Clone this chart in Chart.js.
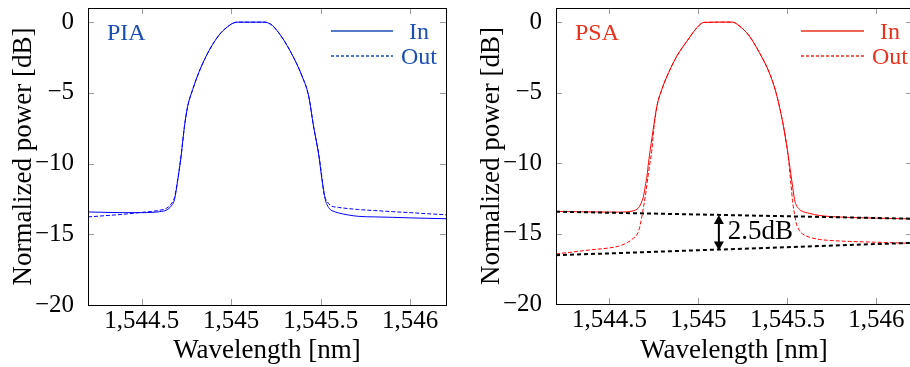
<!DOCTYPE html>
<html>
<head>
<meta charset="utf-8">
<script src="https://cdn.jsdelivr.net/npm/chart.js@4.4.0/dist/chart.umd.min.js"></script>
<style>
  html, body { margin: 0; padding: 0; background: #fff; overflow: hidden; }
  body { width: 910px; height: 367px; position: relative; }
  canvas { position: absolute; top: 0; }
  #chartPIA { left: 0; }
  #chartPSA { left: 460px; }
</style>
</head>
<body>
<canvas id="chartPIA" width="455" height="367"></canvas>
<canvas id="chartPSA" width="460" height="367"></canvas>
<script>
const xTicks = [1544.5, 1545, 1545.5, 1546];
const yTicks = [0, -5, -10, -15, -20];

// PIA panel (wavelength grid shared by In and Out)
const wlPIA = [1544.2, 1544.3, 1544.4, 1544.5, 1544.6, 1544.64, 1544.665, 1544.683, 1544.702, 1544.72,
  1544.739, 1544.757, 1544.785, 1544.822, 1544.86, 1544.896, 1544.943, 1544.99, 1545.01, 1545.035,
  1545.19, 1545.21, 1545.23, 1545.285, 1545.34, 1545.396, 1545.433, 1545.46, 1545.49, 1545.507,
  1545.517, 1545.526, 1545.535, 1545.554, 1545.563, 1545.6, 1545.71, 1545.8, 1545.9, 1546.0,
  1546.1, 1546.2];
const piaIn = [-13.42, -13.45, -13.47, -13.47, -13.4, -13.28, -13.0, -12.56, -11.13, -9.48,
  -7.36, -5.94, -4.76, -3.47, -2.41, -1.58, -0.75, -0.23, -0.07, 0,
  0, -0.08, -0.23, -1.1, -2.29, -3.82, -5.24, -7.36, -9.48, -11.13,
  -11.9, -12.56, -12.9, -13.26, -13.33, -13.49, -13.73, -13.77, -13.8, -13.84,
  -13.87, -13.9];
const piaOut = [-13.77, -13.68, -13.58, -13.45, -13.3, -13.15, -12.85, -12.4, -11.05, -9.45,
  -7.36, -5.94, -4.76, -3.47, -2.41, -1.58, -0.75, -0.23, -0.07, 0,
  0, -0.08, -0.23, -1.1, -2.29, -3.82, -5.24, -7.36, -9.4, -11.0,
  -12.1, -12.45, -12.67, -12.95, -13.02, -13.1, -13.25, -13.32, -13.4, -13.47,
  -13.55, -13.62];

// PSA panel
const wlPSA = [1544.2, 1544.3, 1544.4, 1544.5, 1544.551, 1544.6, 1544.626, 1544.664, 1544.683, 1544.692,
  1544.702, 1544.711, 1544.72, 1544.73, 1544.739, 1544.749, 1544.767, 1544.795, 1544.833, 1544.88,
  1544.937, 1544.993, 1545.031, 1545.191, 1545.229, 1545.285, 1545.342, 1545.398, 1545.436, 1545.474,
  1545.502, 1545.521, 1545.53, 1545.54, 1545.549, 1545.568, 1545.577, 1545.624, 1545.68, 1545.75,
  1545.85, 1546.0, 1546.2];
const psaIn = [-13.43, -13.45, -13.47, -13.48, -13.48, -13.46, -13.41, -13.17, -12.7, -12.34,
  -11.6, -10.92, -9.95, -9.03, -8.2, -7.37, -5.95, -4.76, -3.58, -2.39,
  -1.33, -0.38, -0.02, 0, -0.26, -0.97, -2.15, -3.58, -5.0, -7.13,
  -9.26, -10.92, -11.75, -12.58, -12.95, -13.29, -13.38, -13.57, -13.72, -13.8,
  -13.86, -13.91, -13.96];
const psaOut = [-16.45, -16.3, -16.15, -16.02, -15.9, -15.65, -15.42, -14.83, -13.77, -13.1,
  -12.34, -11.5, -10.68, -9.8, -9.03, -7.6, -6.0, -4.76, -3.58, -2.39,
  -1.33, -0.38, -0.02, 0, -0.26, -0.97, -2.15, -3.58, -5.0, -7.13,
  -9.26, -11.63, -12.82, -13.6, -14.24, -14.8, -14.95, -15.26, -15.42, -15.5,
  -15.56, -15.62, -15.7];

// dotted guide lines and the gain gap marker
const wlGuide = [1544.2, 1546.2];
const guideTop = [-13.45, -13.95];
const guideBottom = [-16.54, -15.66];
const gapArrow = { x: 1545.115, from: -13.68, to: -16.2, textAt: -14.9, label: "2.5dB" };

const FONT = "'Liberation Serif', 'Times New Roman', serif";
const pts = (xs, ys) => xs.map((x, i) => ({ x: x, y: ys[i] }));
const minus = v => (v < 0 ? "\u2212" + Math.abs(v) : String(v));

const panelPlugin = {
  id: "panel",
  afterDatasetsDraw(chart, args, o) {
    const { ctx, chartArea: a, scales: { x, y } } = chart;
    ctx.save();
    // inward tick marks on all four sides
    ctx.strokeStyle = "#9a9a9a";
    ctx.lineWidth = 1;
    ctx.beginPath();
    x.ticks.forEach(t => {
      const px = Math.round(x.getPixelForValue(t.value)) + 0.5;
      ctx.moveTo(px, a.bottom); ctx.lineTo(px, a.bottom - 6);
      ctx.moveTo(px, a.top); ctx.lineTo(px, a.top + 6);
    });
    y.ticks.forEach(t => {
      const py = Math.round(y.getPixelForValue(t.value)) + 0.5;
      ctx.moveTo(a.left, py); ctx.lineTo(a.left + 6, py);
      ctx.moveTo(a.right, py); ctx.lineTo(a.right - 6, py);
    });
    ctx.stroke();
    // frame
    ctx.strokeStyle = "#000";
    ctx.strokeRect(Math.round(a.left) + 0.5, Math.round(a.top) + 0.5, Math.round(a.width), Math.round(a.height));

    // panel name
    ctx.fillStyle = o.color;
    ctx.strokeStyle = o.color;
    ctx.font = "24px " + FONT;
    ctx.textBaseline = "middle";
    ctx.textAlign = "left";
    ctx.fillText(o.label, a.left + 19, a.top + 26);

    // legend
    ctx.lineWidth = 1.6;
    ctx.textAlign = "center";
    [["In", []], ["Out", [3, 2]]].forEach((row, i) => {
      const ly = a.top + 23 + i * 25;
      ctx.setLineDash(row[1]);
      ctx.beginPath();
      ctx.moveTo(a.right - o.lx0, ly);
      ctx.lineTo(a.right - o.lx1, ly);
      ctx.stroke();
      ctx.setLineDash([]);
      ctx.fillText(row[0], a.right - o.tx, ly + 2);
    });

    // gap arrow
    if (o.arrow) {
      const g = o.arrow;
      const ax = x.getPixelForValue(g.x);
      const y1 = y.getPixelForValue(g.from);
      const y2 = y.getPixelForValue(g.to);
      ctx.strokeStyle = "#000";
      ctx.fillStyle = "#000";
      ctx.lineWidth = 2;
      ctx.beginPath();
      ctx.moveTo(ax, y1 + 6);
      ctx.lineTo(ax, y2 - 6);
      ctx.stroke();
      ctx.beginPath();
      ctx.moveTo(ax, y1); ctx.lineTo(ax - 5, y1 + 9); ctx.lineTo(ax + 5, y1 + 9); ctx.closePath();
      ctx.moveTo(ax, y2); ctx.lineTo(ax - 5, y2 - 9); ctx.lineTo(ax + 5, y2 - 9); ctx.closePath();
      ctx.fill();
      ctx.font = "27px " + FONT;
      ctx.textAlign = "left";
      ctx.fillText(g.label, ax + 9, y.getPixelForValue(g.textAt));
    }
    ctx.restore();
  }
};

function makeChart(id, cfg) {
  return new Chart(document.getElementById(id).getContext("2d"), {
    type: "line",
    data: { datasets: cfg.datasets },
    options: {
      responsive: false,
      animation: false,
      devicePixelRatio: 1,
      layout: { padding: { top: 8, right: cfg.padRight, left: 0, bottom: 0 } },
      elements: { point: { radius: 0 }, line: { tension: 0 } },
      plugins: {
        legend: { display: false },
        tooltip: { enabled: false },
        panel: cfg.panel
      },
      scales: {
        x: {
          type: "linear",
          min: 1544.2,
          max: 1546.2,
          grid: { display: false },
          border: { display: false },
          afterBuildTicks: s => { s.ticks = xTicks.map(v => ({ value: v })); },
          afterFit: s => { s.height = cfg.xHeight; s.paddingLeft = 0; s.paddingRight = 0; },
          ticks: {
            color: "#000",
            padding: -7,
            maxRotation: 0,
            autoSkip: false,
            font: { family: FONT, size: 25 },
            callback: v => v.toLocaleString("en-US")
          },
          title: {
            display: true,
            text: "Wavelength [nm]",
            color: "#000",
            font: { family: FONT, size: 27 },
            padding: { top: 0, bottom: 0 }
          }
        },
        y: {
          type: "linear",
          min: -20,
          max: 1,
          grid: { display: false },
          border: { display: false },
          afterBuildTicks: s => { s.ticks = yTicks.map(v => ({ value: v })); },
          afterFit: s => { s.width = cfg.yWidth; s.paddingTop = 0; s.paddingBottom = 0; },
          ticks: {
            color: "#000",
            padding: 6,
            font: { family: FONT, size: 25 },
            callback: v => minus(v)
          },
          title: {
            display: true,
            text: "Normalized power [dB]",
            color: "#000",
            font: { family: FONT, size: 27 },
            padding: { top: cfg.yTitlePad, bottom: 0 }
          }
        }
      }
    },
    plugins: [panelPlugin]
  });
}

const guideStyle = { borderColor: "#000", borderWidth: 2, borderDash: [4, 3] };
const curve = { borderWidth: 1, cubicInterpolationMode: "monotone" };

makeChart("chartPIA", {
  padRight: 9, xHeight: 62, yWidth: 88, yTitlePad: 8,
  panel: { label: "PIA", color: "#1c4fb4", lx0: 115, lx1: 53, tx: 27 },
  datasets: [
    Object.assign({ label: "In", data: pts(wlPIA, piaIn), borderColor: "#0000ff" }, curve),
    Object.assign({ label: "Out", data: pts(wlPIA, piaOut), borderColor: "#0000ff", borderDash: [4, 2] }, curve)
  ]
});

makeChart("chartPSA", {
  padRight: 8, xHeight: 63, yWidth: 96, yTitlePad: 16,
  panel: { label: "PSA", color: "#e8321e", lx0: 111, lx1: 48, tx: 22, arrow: gapArrow },
  datasets: [
    Object.assign({ label: "guide top", data: pts(wlGuide, guideTop) }, guideStyle),
    Object.assign({ label: "guide bottom", data: pts(wlGuide, guideBottom) }, guideStyle),
    Object.assign({ label: "In", data: pts(wlPSA, psaIn), borderColor: "#ff0000" }, curve),
    Object.assign({ label: "Out", data: pts(wlPSA, psaOut), borderColor: "#ff0000", borderDash: [4, 2] }, curve)
  ]
});
</script>
</body>
</html>
